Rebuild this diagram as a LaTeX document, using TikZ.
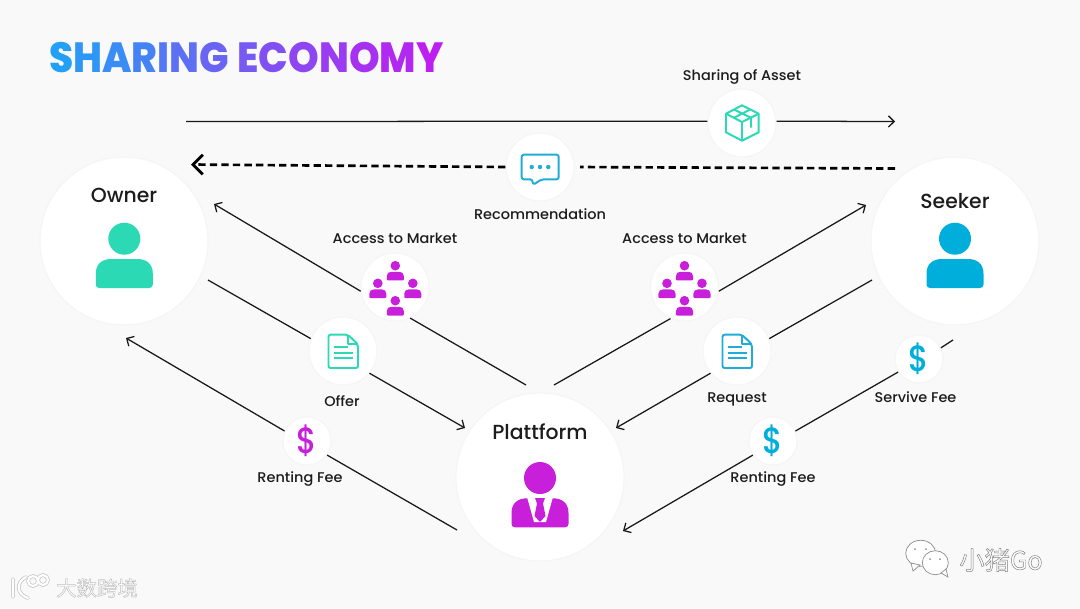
\documentclass[tikz,border=0pt]{standalone}
\usepackage{fontspec}
\setmainfont{Poppins}[UprightFont=* Medium]
\newfontfamily\titlefont{Poppins}[UprightFont=* ExtraBold, FakeStretch=0.925]
\newfontfamily\labelfont{Poppins}[UprightFont=* Medium, FakeStretch=1.03]
\newfontfamily\feefont{Poppins}[UprightFont=* Medium, FakeStretch=0.86]
\newfontfamily\cjkfont{Noto Sans CJK SC}
\usetikzlibrary{arrows.meta,calc}
\definecolor{pagebg}{RGB}{249,249,249}
\definecolor{qteal}{RGB}{43,218,180}
\definecolor{qblue}{RGB}{0,174,219}
\definecolor{qchat}{RGB}{32,172,214}
\definecolor{qmagenta}{RGB}{200,32,218}
\definecolor{titleblue}{RGB}{33,160,245}
\definecolor{titlepurple}{RGB}{190,30,240}
\definecolor{inktext}{RGB}{28,28,28}
\newcommand{\gl}[2]{\textcolor{titlepurple!#1!titleblue}{#2}}
\newcommand{\wmark}[2]{\special{pdf:code q 2 Tr 0.35 w #1 G 1 g}#2\special{pdf:code Q}}
\tikzset{
  person/.pic={
    \path[pic actions] (0,0) circle[radius=16];
    \path[pic actions] (-28.5,35) .. controls (-28.5,25) and (-22,20.3) .. (-13,20.3)
      -- (13,20.3) .. controls (22,20.3) and (28.5,25) .. (28.5,35) -- (28.5,46)
      .. controls (28.5,48) and (27,49.3) .. (25,49.3) -- (-25,49.3)
      .. controls (-27,49.3) and (-28.5,48) .. (-28.5,46) -- cycle;
  },
  docicon/.pic={
    \draw[iconline, rounded corners=1.5pt] (5,-16.3) -- (-14.5,-16.3) -- (-14.5,17) -- (15,17) -- (15,-6.5) -- cycle;
    \draw[iconline] (5,-16.3) -- (5,-7) -- (15,-7);
    \draw[iconline] (-9.5,-4) -- (5,-4) (-9.5,1.7) -- (9.5,1.7) (-9.5,7) -- (9.5,7);
  }
}
\begin{document}
\begin{tikzpicture}[
    x=0.025cm, y=-0.025cm,
    bignode/.style={circle, fill=white, draw=black!4, line width=0.8pt, minimum size=4.2cm, inner sep=0pt},
    midnode/.style={circle, fill=white, draw=black!4, line width=0.8pt, minimum size=1.7cm, inner sep=0pt},
    feenode/.style={circle, fill=white, draw=black!4, line width=0.8pt, minimum size=1.2cm, inner sep=0pt,
                    font=\fontsize{26}{26}\selectfont\feefont},
    bigtext/.style={font=\fontsize{14.5}{16}\selectfont, text=inktext},
    smalltext/.style={font=\fontsize{10}{12}\selectfont\labelfont, text=inktext},
    flow/.style={-{Straight Barb[length=4pt,width=8pt]}, line width=0.9pt, black!90},
    plainflow/.style={line width=0.9pt, black!90},
    dashflow/.style={line width=1.9pt, black, dash pattern=on 5.2pt off 3pt},
    iconline/.style={line width=1.4pt, line join=round},
    haloline/.style={black!22, line width=2.6pt, line cap=round},
    logoline/.style={white, line width=1.5pt, line cap=round}
]
\useasboundingbox (0,0) rectangle (1080,608);
\fill[pagebg] (0,0) rectangle (1080,608);

% Title
\node[anchor=west, inner sep=0pt, font=\fontsize{30}{32}\selectfont\titlefont] (title) at (49,58)
  {\gl{0}{S}\gl{8}{H}\gl{15}{A}\gl{23}{R}\gl{31}{I}\gl{38}{N}\gl{46}{G}\hspace{0.2em}\gl{54}{E}\gl{62}{C}\gl{69}{O}\gl{77}{N}\gl{85}{O}\gl{92}{M}\gl{100}{Y}};

% Big circles
\node[bignode] (owner) at (124,241) {};
\node[bignode] (seeker) at (955,241) {};
\node[bignode] (plat) at (540,477) {};
\node[bigtext] (ownerText) at (124,195) {Owner};
\node[bigtext] (seekerText) at (955,201) {Seeker};
\node[bigtext] (platText) at (540,432) {Plattform};

% Medium circles
\node[midnode] (asset) at (742,123) {};
\node[midnode] (recom) at (540,167) {};
\node[midnode] (accessL) at (395,287) {};
\node[midnode] (accessR) at (684.5,287) {};
\node[midnode] (offer) at (343,351) {};
\node[midnode] (request) at (737,351) {};

% Fee circles
\node[feenode, text=qmagenta] (rentL) at (307,441) {\$};
\node[feenode, text=qblue] (rentR) at (773,441) {\$};
\node[feenode, text=qblue] (service) at (919,359) {\$};

% Labels
\node[smalltext] (assetText) at (742,76.5) {Sharing of Asset};
\node[smalltext] (recomText) at (540,214) {Recommendation};
\node[smalltext] (accessLText) at (395,238) {Access to Market};
\node[smalltext] (accessRText) at (684.5,238) {Access to Market};
\node[smalltext] (offerText) at (342,401) {Offer};
\node[smalltext] (requestText) at (737,399) {Request};
\node[smalltext] (rentLText) at (300,479) {Renting Fee};
\node[smalltext] (rentRText) at (773,479) {Renting Fee};
\node[smalltext] (serviceText) at (915.5,397) {Servive Fee};

% Free ends
\coordinate (assetFrom) at (186,121.5);
\coordinate (assetTo) at (895,121.5);
\coordinate (recomFrom) at (895,168.5);
\coordinate (recomTo) at (191,164.5);
\coordinate (ownerTipA) at (214,204);
\coordinate (platOutL) at (526,385);
\coordinate (seekerTipA) at (866,205);
\coordinate (platOutR) at (554,385);
\coordinate (ownerOut) at (208,280);
\coordinate (platTipL) at (465,428);
\coordinate (seekerOut) at (872,280);
\coordinate (platTipR) at (616,428);
\coordinate (ownerTipB) at (126,338);
\coordinate (platFeeL) at (457,530);
\coordinate (seekerFee) at (953,340);
\coordinate (platFeeR) at (623,531);

% Top arrows
\draw[plainflow] (assetFrom) -- (asset.177);
\draw[flow] (asset.3) -- (assetTo);
\draw[dashflow, shorten >=4pt] (recomFrom) -- (recom.east);
\draw[dashflow, -{Straight Barb[length=7pt,width=14pt,line width=2pt]}] (recom.west) -- (recomTo);

% Diagonal arrows
\draw[plainflow] (platOutL) -- (accessL.296);
\draw[flow] (accessL.187) -- (ownerTipA);
\draw[plainflow] (platOutR) -- (accessR.246);
\draw[flow] (accessR.353) -- (seekerTipA);
\draw[plainflow] (ownerOut) -- (offer.159);
\draw[flow] (offer.320) -- (platTipL);
\draw[plainflow] (seekerOut) -- (request.21);
\draw[flow] (request.220) -- (platTipR);
\draw[plainflow] (platFeeL) -- (rentL.325);
\draw[flow] (rentL.156) -- (ownerTipB);
\draw[plainflow] (seekerFee) -- (service.27);
\draw[plainflow] (service.212) -- (rentR.24);
\draw[flow] (rentR.215) -- (platFeeR);

% Person icons
\pic[fill=qteal] at (124.3,238.7) {person};
\pic[fill=qblue] at (955,238.7) {person};
\pic[fill=qmagenta] at (540,478) {person};
\fill[white] (527.3,498) -- (534,522) -- (546,522) -- (552.7,498) -- cycle;
\fill[qmagenta] (535,498) -- (545,498) -- (543,503.5) -- (545.5,516) -- (540,522) -- (534.5,516) -- (537,503.5) -- cycle;

% Market icons
\foreach \cx in {395.3,684.5} {
  \pic[fill=qmagenta, scale=0.3] at (\cx,265.7) {person};
  \pic[fill=qmagenta, scale=0.3] at (\cx-17.5,283.3) {person};
  \pic[fill=qmagenta, scale=0.3] at (\cx+17.5,283.3) {person};
  \pic[fill=qmagenta, scale=0.3] at (\cx,300.7) {person};
}

% Document icons
\pic[draw=qteal, qteal] at (343,351) {docicon};
\pic[draw=qchat, qchat] at (737,351) {docicon};

% Box icon
\begin{scope}[shift={(742,123)}, qteal]
  \draw[iconline] (0,-17.7) -- (16.7,-9.3) -- (16.7,9.3) -- (0,17.7) -- (-16,9.3) -- (-16,-9.3) -- cycle;
  \draw[iconline] (-16,-9.3) -- (0,-1) -- (16.7,-9.3) (0,-1) -- (0,17.7);
  \draw[iconline] (-8,-13.5) -- (9,-5.2) -- (9,4.5) (8,-13.5) -- (-8,-5.2);
\end{scope}

% Chat icon
\begin{scope}[shift={(540,167)}, qchat]
  \draw[iconline, rounded corners=1.5pt] (-18.3,-12.3) -- (18.7,-12.3) -- (18.7,12.3) -- (1.7,12.3) -- (-6.7,17.7) -- (-8,12.3) -- (-18.3,12.3) -- cycle;
  \foreach \dx in {-8.3,0,8.3} {
    \fill (\dx,0) circle[radius=2.2];
  }
\end{scope}

% Watermarks
\begin{scope}[fill=white, draw=black!45, line width=0.5pt]
  \filldraw (920.7,553.3) ellipse[x radius=15, y radius=13];
  \filldraw (911,563) -- (913,571) -- (920,565) -- cycle;
  \filldraw (935.3,562.7) ellipse[x radius=13, y radius=12];
  \filldraw (941,573) -- (948,577) -- (946,569) -- cycle;
  \fill[black!45] (915,549) circle[radius=1] (926,549) circle[radius=1] (930,559) circle[radius=1] (940,559) circle[radius=1];
\end{scope}
\node[inner sep=0pt, font=\fontsize{18}{20}\selectfont\cjkfont] (wmGo) at (1001,560) {\wmark{0.5}{小猪Go}};
\node[inner sep=0pt, font=\fontsize{14.5}{16}\selectfont\cjkfont] (wmDashu) at (97,588) {\wmark{0.75}{大数跨境}};
\draw[haloline] (13,579) -- (13,597) (26,577) .. controls (16,582) and (16,594) .. (28,598);
\draw[haloline] (33,581) circle[radius=5] (43,580) circle[radius=5];
\draw[logoline] (13,579) -- (13,597) (26,577) .. controls (16,582) and (16,594) .. (28,598);
\draw[logoline] (33,581) circle[radius=5] (43,580) circle[radius=5];
\end{tikzpicture}
\end{document}
